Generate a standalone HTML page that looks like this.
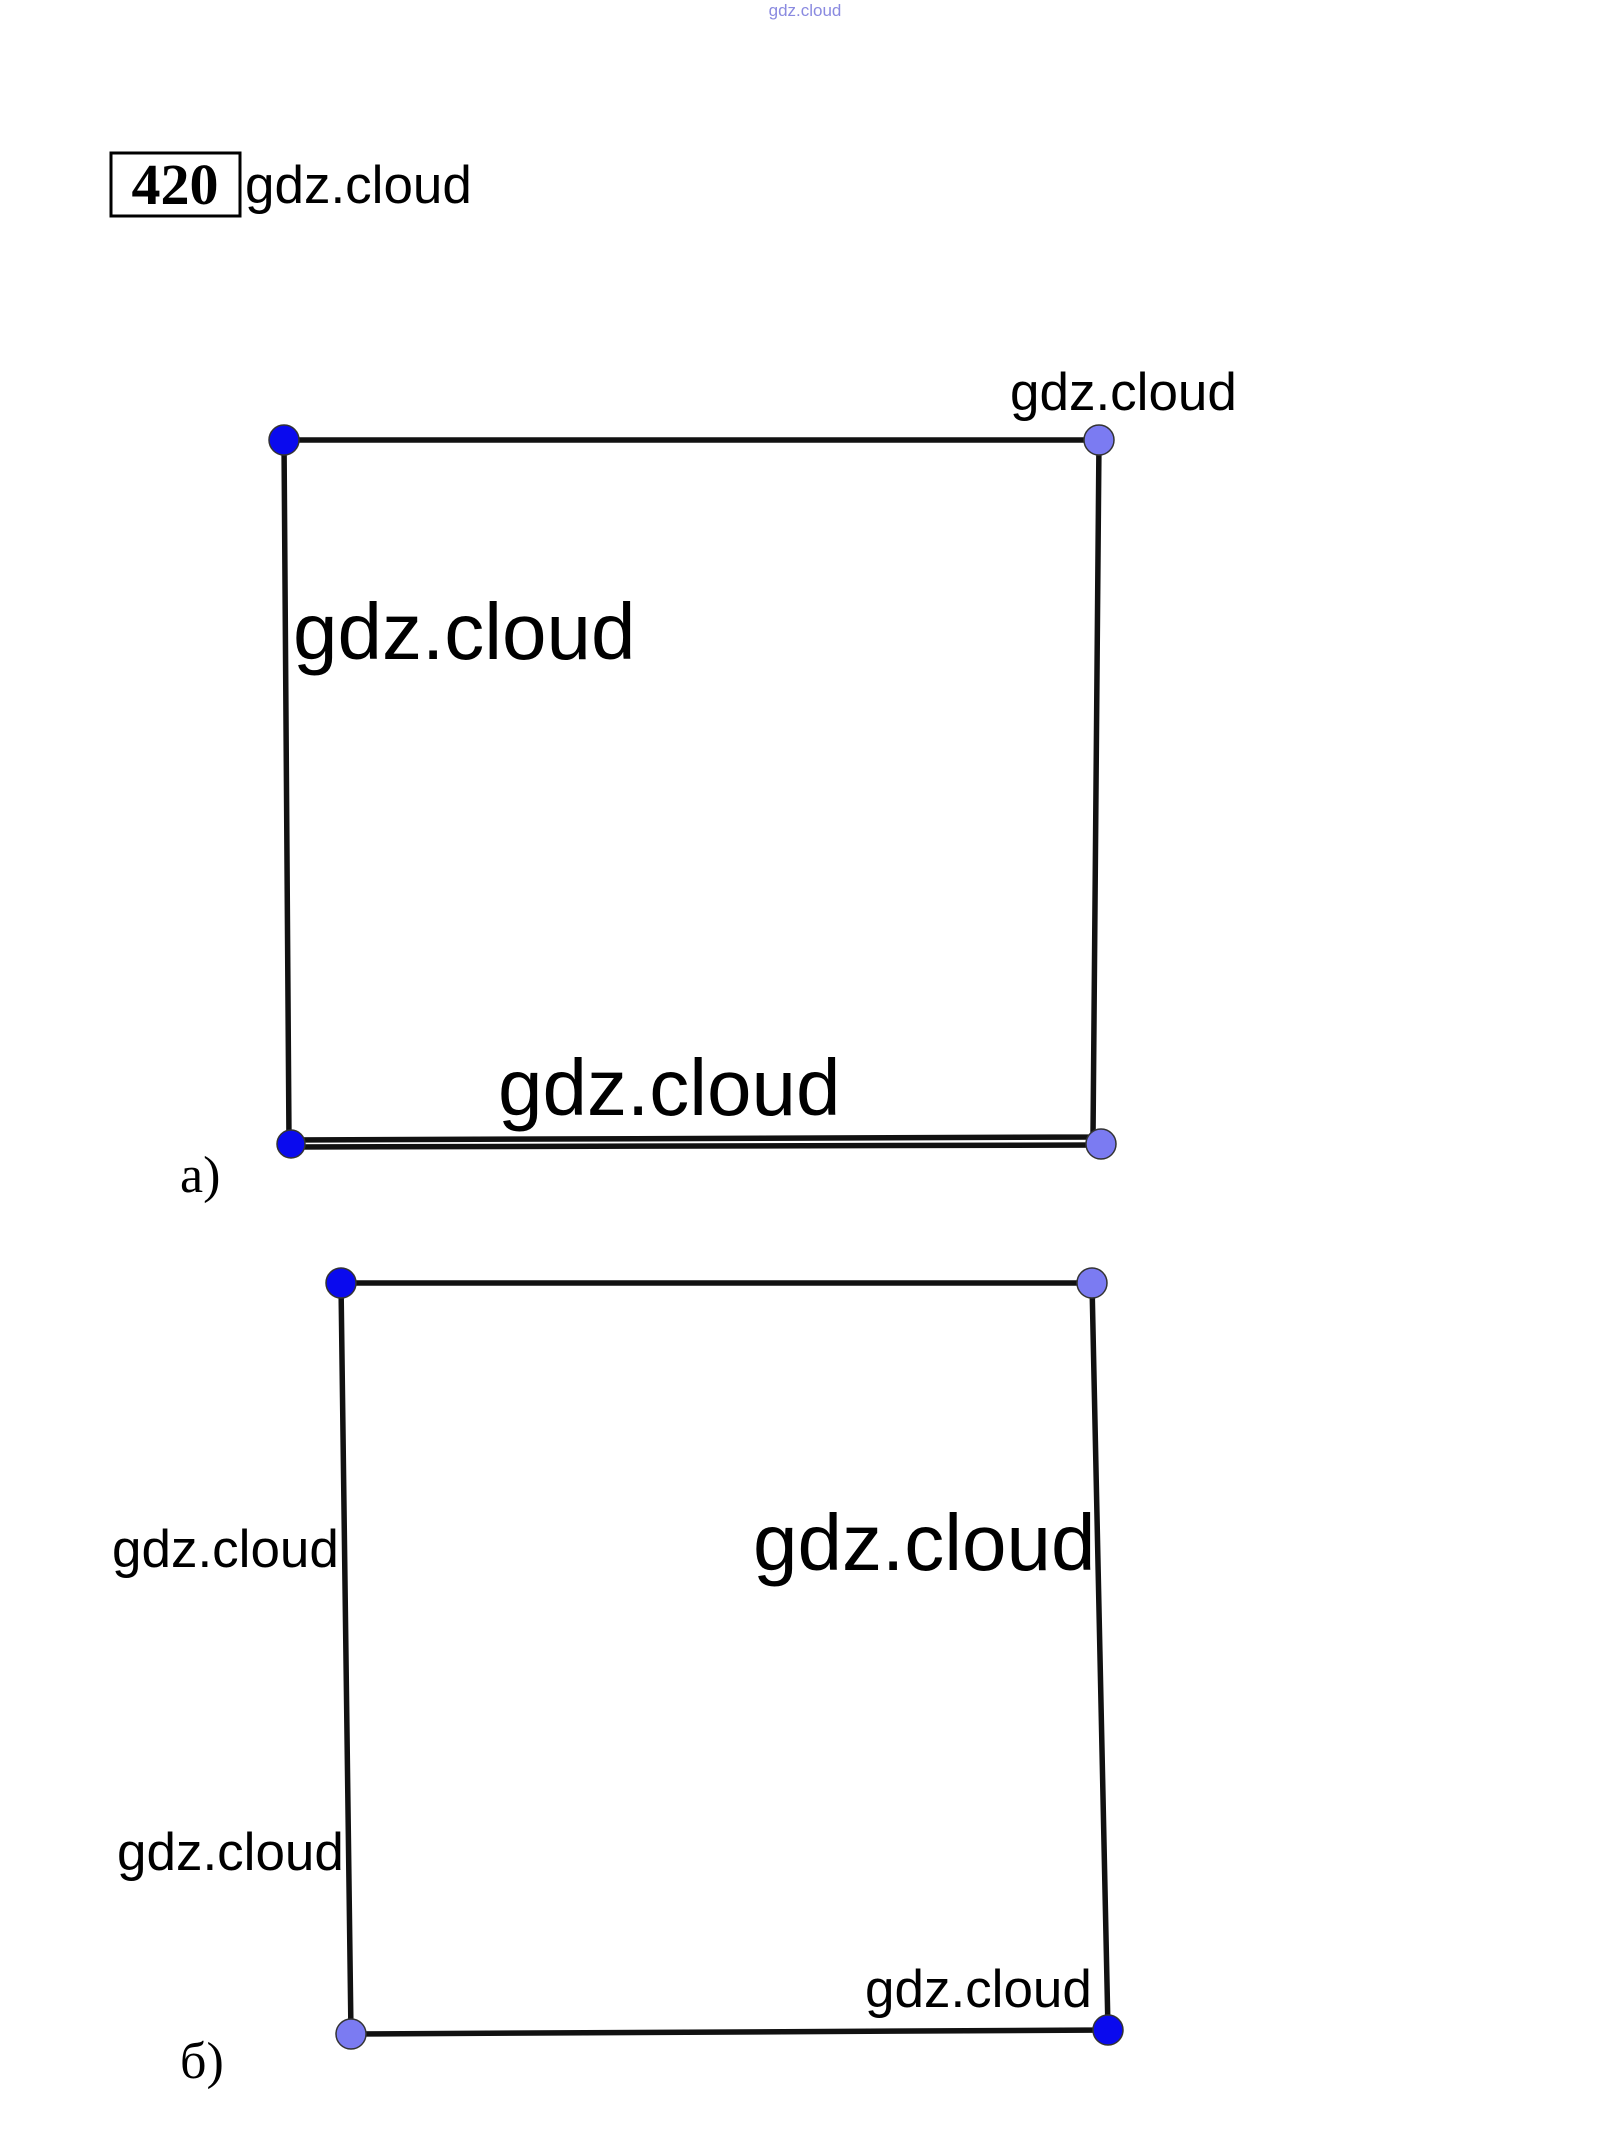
<!DOCTYPE html>
<html><head><meta charset="utf-8"><style>
html,body{margin:0;padding:0;background:#fff;}
svg{display:block;}
</style></head><body>
<svg width="1611" height="2138" viewBox="0 0 1611 2138" xmlns="http://www.w3.org/2000/svg">
<rect width="1611" height="2138" fill="#fff"/>
<text x="805" y="16" font-family="Liberation Sans, sans-serif" font-size="17" fill="#8a8ae0" text-anchor="middle">gdz.cloud</text>
<rect x="111" y="153" width="129" height="63" fill="none" stroke="#000" stroke-width="3"/>
<text x="175" y="204" font-family="Liberation Serif, serif" font-weight="bold" font-size="58" text-anchor="middle">420</text>
<text x="245" y="203" font-family="Liberation Sans, sans-serif" font-size="53">gdz.cloud</text>
<g stroke="#111" stroke-width="5.5" fill="none">
<polyline points="284,440 1099,440 1093,1137 289,1140 284,440"/>
<line x1="289" y1="1147" x2="1100" y2="1145"/>
<polygon points="341,1283 1092,1283 1108,2030 351,2034"/>
</g>
<g stroke="#333" stroke-width="1.5">
<circle cx="284" cy="440" r="15" fill="#0a0aee"/>
<circle cx="1099" cy="440" r="15" fill="#7b7bf2"/>
<circle cx="291" cy="1144" r="14" fill="#0a0aee"/>
<circle cx="1101" cy="1144" r="15" fill="#7b7bf2"/>
<circle cx="341" cy="1283" r="15" fill="#0a0aee"/>
<circle cx="1092" cy="1283" r="15" fill="#7b7bf2"/>
<circle cx="351" cy="2034" r="15" fill="#7b7bf2"/>
<circle cx="1108" cy="2030" r="15" fill="#0a0aee"/>
</g>
<g font-family="Liberation Sans, sans-serif" fill="#000">
<text x="1010" y="410" font-size="53">gdz.cloud</text>
<text x="293" y="659" font-size="80">gdz.cloud</text>
<text x="498" y="1115" font-size="80">gdz.cloud</text>
<text x="112" y="1567" font-size="53">gdz.cloud</text>
<text x="753" y="1570" font-size="80">gdz.cloud</text>
<text x="117" y="1870" font-size="53">gdz.cloud</text>
<text x="865" y="2007" font-size="53">gdz.cloud</text>
</g>
<g font-family="Liberation Serif, serif" font-size="52" fill="#000">
<text x="180" y="1192">а)</text>
<text x="180" y="2078">б)</text>
</g>
</svg>
</body></html>
